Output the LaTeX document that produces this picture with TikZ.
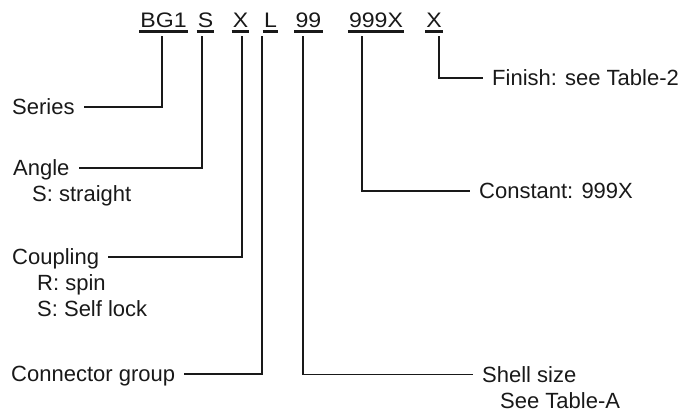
\documentclass[tikz,border=0pt]{standalone}
\usepackage{fontspec}
\setmainfont{Liberation Sans}
\newfontfamily\codefont[FakeStretch=1.1]{Liberation Sans}
\usetikzlibrary{positioning}

\begin{document}
\begin{tikzpicture}[x=1pt, y=-1pt,
	code/.style={anchor=base, inner xsep=1pt, inner ysep=3pt, text depth=0pt, text=black!90, font=\codefont\fontsize{21}{21}\selectfont},
	lbl/.style={anchor=base west, inner sep=0pt, text height=15pt, text depth=0pt, text=black!90, font=\fontsize{22}{22}\selectfont},
	uline/.style={line width=2.8pt, black!90},
	lead/.style={line width=1.1pt, black!90, shorten <=5pt, shorten >=9pt}
	]

	\useasboundingbox (0,0) rectangle (694,414);

		\node (cseries) [code] at (163.5,28) {BG1};
		\node (cangle) [code] at (205.5,28) {S};
		\node (ccoupling) [code] at (240.5,28) {X};
		\node (cgroup) [code] at (270.5,28) {L};
		\node (cshell) [code] at (308.5,28) {99};
		\node (cconst) [code] at (376,28) {999X};
		\node (cfinish) [code] at (434,28) {X};

		\node (series) [lbl] at (12,114.5) {Series};
		\node (angle) [lbl] at (13,175.5) {Angle};
			\node (anglestr) [lbl, below right=26pt and 19pt of angle.base west, anchor=base west] {S: straight};
		\node (coupling) [lbl] at (12,264.5) {Coupling};
			\node (couplingspin) [lbl, below right=26pt and 25pt of coupling.base west, anchor=base west] {R: spin};
			\node (couplinglock) [lbl, below=26pt of couplingspin.base west, anchor=base west] {S: Self lock};
		\node (group) [lbl] at (11,381.5) {Connector group};
		\node (shell) [lbl] at (482,382) {Shell size};
			\node (shelltab) [lbl, below right=26pt and 18pt of shell.base west, anchor=base west] {See Table-A};
		\node (const) [lbl] at (479,198.5) {Constant: 999X};
		\node (finish) [lbl] at (492,85.5) {Finish: see Table-2};

	\draw [uline] (cseries.south west)--(cseries.south east);
	\draw [uline] (cangle.south west)--(cangle.south east);
	\draw [uline] (ccoupling.south west)--(ccoupling.south east);
	\draw [uline] (cgroup.south west)--(cgroup.south east);
	\draw [uline] (cshell.south west)--(cshell.south east);
	\draw [uline] (cconst.south west)--(cconst.south east);
	\draw [uline] (cfinish.south west)--(cfinish.south east);

	\draw [lead] ([xshift=-1.5pt]cseries.south) |- (series.east);
	\draw [lead] ([xshift=-3.5pt]cangle.south) |- (angle.east);
	\draw [lead] ([xshift=1.5pt]ccoupling.south) |- (coupling.east);
	\draw [lead] ([xshift=-8.5pt]cgroup.south) |- (group.east);
	\draw [lead] ([xshift=-5.5pt]cshell.south) |- (shell.west);
	\draw [lead] ([xshift=-14pt]cconst.south) |- (const.west);
	\draw [lead] ([xshift=5pt]cfinish.south) |- (finish.west);

\end{tikzpicture}
\end{document}
